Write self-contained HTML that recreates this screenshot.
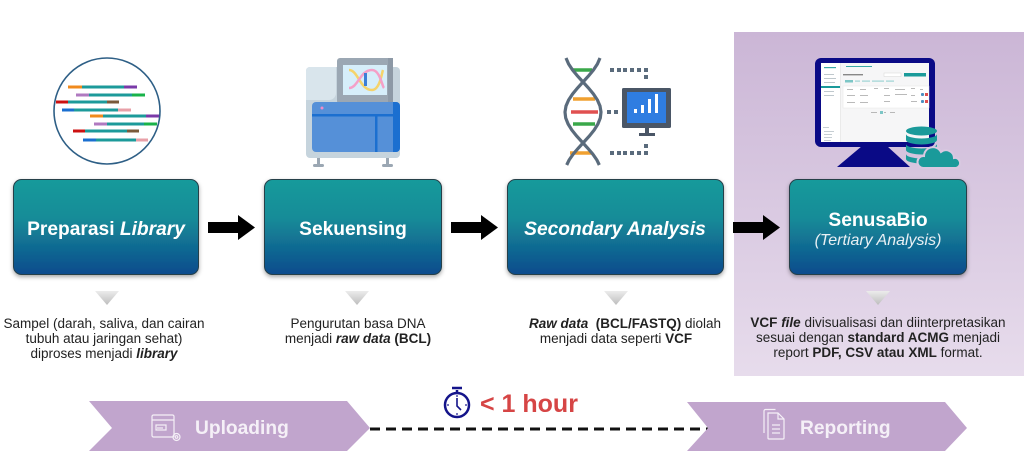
<!DOCTYPE html>
<html><head><meta charset="utf-8"><style>
html,body{margin:0;padding:0;background:#fff;}
body{width:1024px;height:475px;overflow:hidden;}
svg{display:block;}
text{font-family:"Liberation Sans",sans-serif;}
</style></head><body>
<svg width="1024" height="475" viewBox="0 0 1024 475" xmlns="http://www.w3.org/2000/svg">
<defs>
<linearGradient id="panel" x1="0" y1="0" x2="0" y2="1"><stop offset="0" stop-color="#cbb6d6"/><stop offset="1" stop-color="#e7dcec"/></linearGradient>
<linearGradient id="box" x1="0" y1="0" x2="0" y2="1"><stop offset="0" stop-color="#189a9b"/><stop offset="0.4" stop-color="#158c98"/><stop offset="1" stop-color="#0d4b8d"/></linearGradient>
<linearGradient id="tri" x1="0" y1="0" x2="0" y2="1"><stop offset="0" stop-color="#ececec"/><stop offset="1" stop-color="#bdbdbd"/></linearGradient>
<filter id="sh" x="-10%" y="-10%" width="120%" height="130%"><feDropShadow dx="0" dy="2" stdDeviation="2" flood-color="#000" flood-opacity="0.35"/></filter>
</defs>

<!-- purple panel -->
<rect x="734" y="32" width="290" height="344" fill="url(#panel)"/>

<!-- ICON 1: library circle -->
<circle cx="107" cy="111" r="53" fill="#fff" stroke="#2e5f86" stroke-width="1.6"/>
<g stroke-width="3">
<line x1="68" y1="87" x2="82" y2="87" stroke="#f08a1c"/><line x1="82" y1="87" x2="124" y2="87" stroke="#1c9a9a"/><line x1="124" y1="87" x2="137" y2="87" stroke="#7a3aa8"/>
<line x1="76" y1="95" x2="89" y2="95" stroke="#b07ac0"/><line x1="89" y1="95" x2="132" y2="95" stroke="#1c9a9a"/><line x1="132" y1="95" x2="145" y2="95" stroke="#19b34a"/>
<line x1="56" y1="102" x2="68" y2="102" stroke="#cc1111"/><line x1="68" y1="102" x2="107" y2="102" stroke="#1c9a9a"/><line x1="107" y1="102" x2="119" y2="102" stroke="#7a5a3a"/>
<line x1="62" y1="110" x2="74" y2="110" stroke="#1a6fd0"/><line x1="74" y1="110" x2="118" y2="110" stroke="#1c9a9a"/><line x1="118" y1="110" x2="131" y2="110" stroke="#e8a0a8"/>
<line x1="90" y1="116" x2="103" y2="116" stroke="#f08a1c"/><line x1="103" y1="116" x2="146" y2="116" stroke="#1c9a9a"/><line x1="146" y1="116" x2="159" y2="116" stroke="#7a3aa8"/>
<line x1="94" y1="124" x2="107" y2="124" stroke="#b07ac0"/><line x1="107" y1="124" x2="144" y2="124" stroke="#1c9a9a"/><line x1="144" y1="124" x2="157" y2="124" stroke="#19b34a"/>
<line x1="73" y1="131" x2="85" y2="131" stroke="#cc1111"/><line x1="85" y1="131" x2="127" y2="131" stroke="#1c9a9a"/><line x1="127" y1="131" x2="139" y2="131" stroke="#7a5a3a"/>
<line x1="83" y1="140" x2="96" y2="140" stroke="#1a6fd0"/><line x1="96" y1="140" x2="136" y2="140" stroke="#1c9a9a"/><line x1="136" y1="140" x2="148" y2="140" stroke="#e8a0a8"/>
</g>

<!-- ICON 2: sequencer -->
<rect x="306" y="67" width="94" height="91" rx="4" fill="#c6d4dd"/>
<path d="M306 71 a4 4 0 0 1 4 -4 h26 v26 a7 7 0 0 1 -7 7 h-23 z" fill="#d9e5ec"/>
<rect x="337" y="58" width="56" height="46" rx="3" fill="#9ba7b3"/>
<rect x="388" y="58" width="5" height="46" fill="#8d99a6"/>
<rect x="343" y="65" width="44" height="30" fill="#d6eefa"/>
<path d="M349 70 C358 70 360 90 372 90 C380 90 382 72 383 70" fill="none" stroke="#f5d36a" stroke-width="2.5"/>
<path d="M349 88 C358 88 360 70 372 70 C380 70 382 86 384 88" fill="none" stroke="#f4a0c8" stroke-width="2.5"/>
<rect x="364" y="73" width="3" height="13" fill="#3d7fd6"/>
<rect x="312" y="102" width="88" height="50" rx="4" fill="#5590d8"/>
<path d="M393 102 h3 a4 4 0 0 1 4 4 v42 a4 4 0 0 1 -4 4 h-3 z" fill="#1b6fd0"/>
<rect x="312" y="114" width="88" height="2.5" fill="#1b6fd0"/>
<rect x="375" y="116" width="2.5" height="36" fill="#1b6fd0"/>
<circle cx="322" cy="108" r="1.5" fill="#f08ac8"/>
<rect x="317" y="158" width="3" height="7" fill="#9ba7b3"/><rect x="313" y="164" width="11" height="3" rx="1.5" fill="#9ba7b3"/>
<rect x="386" y="158" width="3" height="7" fill="#9ba7b3"/><rect x="382" y="164" width="11" height="3" rx="1.5" fill="#9ba7b3"/>

<!-- ICON 3: DNA + monitor -->
<g stroke-width="3.5">
<line x1="573" y1="70" x2="592" y2="70" stroke="#3aa84a"/>
<line x1="573" y1="99" x2="595" y2="99" stroke="#f0a030"/>
<line x1="571" y1="112" x2="598" y2="112" stroke="#e05050"/>
<line x1="573" y1="124" x2="595" y2="124" stroke="#3aa84a"/>
<line x1="570" y1="153" x2="592" y2="153" stroke="#f0a030"/>
</g>
<polyline fill="none" stroke="#5a6b7c" stroke-width="3.2" points="566,58 568.6,64 572.6,70 577.5,76 583,82 588.5,88 593.4,94 597.4,100 600,106 601,112 600.3,118 597.9,124 594.2,130 589.4,136 583.9,142 578.4,148 573.3,154 569.1,160 566.7,165"/>
<polyline fill="none" stroke="#5a6b7c" stroke-width="3.2" points="600,58 597.4,64 593.4,70 588.5,76 583,82 577.5,88 572.6,94 568.6,100 566,106 565,112 565.7,118 568.1,124 571.8,130 576.6,136 582.1,142 587.6,148 592.7,154 596.9,160 599.3,165"/>
<g fill="#5a6b7c">
<rect x="610" y="68" width="4" height="4"/><rect x="617" y="68" width="4" height="4"/><rect x="623" y="68" width="4" height="4"/><rect x="630" y="68" width="4" height="4"/><rect x="637" y="68" width="4" height="4"/><rect x="644" y="68" width="4" height="4"/><rect x="644" y="75" width="4" height="4"/>
<rect x="607" y="110" width="4" height="4"/><rect x="614" y="110" width="4" height="4"/>
<rect x="644" y="144" width="4" height="4"/>
<rect x="610" y="151" width="4" height="4"/><rect x="617" y="151" width="4" height="4"/><rect x="623" y="151" width="4" height="4"/><rect x="630" y="151" width="4" height="4"/><rect x="637" y="151" width="4" height="4"/><rect x="644" y="151" width="4" height="4"/>
</g>
<rect x="622" y="88" width="49" height="40" rx="1.5" fill="#4a5666"/>
<rect x="627" y="92" width="39" height="31" fill="#2f7de1"/>
<g fill="#fff"><rect x="634" y="109" width="3" height="4"/><rect x="641" y="105" width="3" height="8"/><rect x="648" y="99" width="3" height="14"/><rect x="655" y="94" width="3" height="19"/></g>
<rect x="645" y="128" width="4" height="6" fill="#4a5666"/><rect x="639" y="133" width="16" height="3" fill="#4a5666"/>

<!-- ICON 4: monitor with app -->
<rect x="815" y="58" width="120" height="89" rx="6" fill="#0a0a86"/>
<polygon points="862,146 887,146 910,167 837,167" fill="#0a0a86"/>
<rect x="821" y="63" width="108" height="79" fill="#f6f6f7"/>
<rect x="821" y="63" width="19" height="79" fill="#fff"/>
<line x1="840.5" y1="63" x2="840.5" y2="142" stroke="#e2e2e2" stroke-width="0.6"/>
<g fill="#b8c2c8">
<rect x="824" y="67" width="12" height="1.2" fill="#3aa8a8"/>
<rect x="824" y="74" width="10" height="0.9"/><rect x="824" y="78" width="12" height="0.9"/><rect x="824" y="82" width="11" height="0.9"/>
<rect x="821" y="86" width="19" height="2" fill="#1a9a9a"/>
<rect x="824" y="91" width="10" height="0.9"/><rect x="824" y="95" width="10" height="0.9"/>
<rect x="823" y="127" width="6" height="0.8"/><rect x="824" y="131" width="10" height="0.8"/><rect x="824" y="134" width="8" height="0.8"/><rect x="824" y="137" width="8" height="0.8"/><rect x="824" y="140" width="7" height="0.8"/>
<rect x="846" y="66" width="26" height="1" fill="#3aa8a8"/>
<rect x="843" y="74" width="20" height="1.4" fill="#888"/>
<rect x="884" y="73" width="17" height="3.5" fill="#fff" stroke="#ccc" stroke-width="0.4"/>
<rect x="904" y="73" width="22" height="3.5" fill="#1a9a9a"/>
<rect x="845" y="80" width="8" height="2.5" fill="#7cc6c6"/>
<rect x="855" y="80.5" width="5" height="1.2" fill="#9fd4d4"/><rect x="862" y="80.5" width="8" height="1.2" fill="#9fd4d4"/><rect x="872" y="80.5" width="12" height="1.2" fill="#9fd4d4"/><rect x="886" y="80.5" width="8" height="1.2" fill="#9fd4d4"/>
</g>
<rect x="843" y="86" width="86" height="22" fill="#fff" stroke="#e6e6e6" stroke-width="0.5"/>
<g fill="#a9a9a9">
<rect x="847" y="89" width="6" height="0.8"/><rect x="860" y="89" width="6" height="0.8"/><rect x="874" y="88" width="4" height="0.8"/><rect x="884" y="88" width="5" height="0.8"/><rect x="895" y="89" width="10" height="0.8"/><rect x="911" y="88" width="4" height="0.8"/><rect x="920" y="89" width="3" height="0.8"/>
<rect x="847" y="95" width="8" height="0.8"/><rect x="860" y="95" width="8" height="0.8"/><rect x="884" y="95" width="6" height="0.8"/><rect x="895" y="94" width="12" height="0.8"/><rect x="911" y="95" width="4" height="0.8"/>
<rect x="847" y="102" width="8" height="0.8"/><rect x="860" y="102" width="8" height="0.8"/><rect x="884" y="101" width="6" height="0.8"/><rect x="911" y="101" width="6" height="0.8"/>
<rect x="871" y="112" width="6" height="0.8"/><rect x="884" y="112" width="2" height="0.8"/><rect x="890" y="112" width="5" height="0.8"/>
</g>
<rect x="921" y="93" width="3" height="3" rx="1" fill="#4a8ec0"/><rect x="925" y="93" width="3" height="3" fill="#e05050"/>
<rect x="921" y="100" width="3" height="3" rx="1" fill="#4a8ec0"/><rect x="925" y="100" width="3" height="3" fill="#e05050"/>
<rect x="880" y="111" width="3" height="3" fill="#7cc6c6"/>
<!-- database + cloud -->
<g fill="#1a9a9a">
<ellipse cx="921.5" cy="131" rx="15.5" ry="4.5"/>
<path d="M906 134 v6 a15.5 4.5 0 0 0 31 0 v-6 a15.5 4.5 0 0 1 -31 0z"/>
<path d="M906 144 v6 a15.5 4.5 0 0 0 31 0 v-6 a15.5 4.5 0 0 1 -31 0z"/>
<path d="M906 154 v5 a15.5 4.5 0 0 0 31 0 v-5 a15.5 4.5 0 0 1 -31 0z"/>
</g>
<path d="M923 168 a6 6 0 0 1 1 -12 a9 9 0 0 1 17 -4 a8 8 0 0 1 13 6 a5 5 0 0 1 2 10 z" fill="#1a9a9a" stroke="#d8c8e0" stroke-width="2"/>

<!-- BOXES -->
<g filter="url(#sh)" stroke="#26404a" stroke-width="1" fill="url(#box)">
<rect x="13.5" y="179.5" width="185" height="95" rx="8"/>
<rect x="264.5" y="179.5" width="177" height="95" rx="8"/>
<rect x="507.5" y="179.5" width="216" height="95" rx="8"/>
<rect x="789.5" y="179.5" width="177" height="95" rx="8"/>
</g>
<g fill="#fff" font-weight="bold" font-size="19.2" text-anchor="middle">
<text x="106" y="235">Preparasi <tspan font-style="italic">Library</tspan></text>
<text x="353" y="235">Sekuensing</text>
<text x="615" y="235" font-style="italic">Secondary Analysis</text>
<text x="878" y="226">SenusaBio</text>
</g>
<text x="878" y="245" fill="#e8f0f4" font-size="16" font-style="italic" text-anchor="middle">(Tertiary Analysis)</text>

<!-- ARROWS -->
<g fill="#000">
<rect x="208" y="222" width="32" height="11"/><polygon points="238,215 255,227.5 238,240"/>
<rect x="451" y="222" width="32" height="11"/><polygon points="481,215 498,227.5 481,240"/>
<rect x="733" y="222" width="32" height="11"/><polygon points="763,215 780,227.5 763,240"/>
</g>

<!-- TRIANGLES -->
<g fill="url(#tri)">
<polygon points="95,291 119,291 107,305"/>
<polygon points="345,291 369,291 357,305"/>
<polygon points="604,291 628,291 616,305"/>
<polygon points="866,291 890,291 878,305"/>
</g>

<!-- DESCRIPTIONS -->
<g fill="#222" font-size="13.5" text-anchor="middle">
<text x="104" y="328">Sampel (darah, saliva, dan cairan</text>
<text x="104" y="343">tubuh atau jaringan sehat)</text>
<text x="104" y="358">diproses menjadi <tspan font-weight="bold" font-style="italic">library</tspan></text>
<text x="358" y="328">Pengurutan basa DNA</text>
<text x="358" y="343">menjadi <tspan font-weight="bold" font-style="italic">raw data</tspan> <tspan font-weight="bold">(BCL)</tspan></text>
<text x="625" y="328"><tspan font-weight="bold" font-style="italic">Raw data</tspan>&#160; <tspan font-weight="bold">(BCL/FASTQ)</tspan> diolah</text>
<text x="616" y="343">menjadi data seperti <tspan font-weight="bold">VCF</tspan></text>
<text x="878" y="327"><tspan font-weight="bold">VCF </tspan><tspan font-weight="bold" font-style="italic">file</tspan> divisualisasi dan diinterpretasikan</text>
<text x="878" y="342">sesuai dengan <tspan font-weight="bold">standard ACMG</tspan> menjadi</text>
<text x="878" y="357">report <tspan font-weight="bold">PDF, CSV atau XML</tspan> format.</text>
</g>

<!-- BOTTOM TIMELINE -->
<line x1="370" y1="429" x2="708" y2="429" stroke="#111" stroke-width="3" stroke-dasharray="10 6"/>
<polygon points="89,401 347,401 370,428 347,451 89,451 112,428" fill="#c1a5cd"/>
<polygon points="687,402 945,402 967,428 945,451 687,451 708,428" fill="#c1a5cd"/>
<!-- uploading icon -->
<g fill="none" stroke="#f5f0f7" stroke-width="1.2">
<rect x="152" y="415" width="22" height="22" rx="1.5"/>
<line x1="152" y1="420" x2="174" y2="420"/>
<rect x="156" y="425" width="10" height="5"/>
<line x1="157" y1="428" x2="163" y2="428"/>
<circle cx="176.5" cy="437" r="3.5"/>
<circle cx="176.5" cy="437" r="1.3"/>
</g>
<!-- reporting icon -->
<g fill="none" stroke="#f5f0f7" stroke-width="1.2">
<path d="M764 433 v-22 a1.5 1.5 0 0 1 1.5 -1.5 h10"/>
<path d="M768 413 h10 l6 6 v19 a1 1 0 0 1 -1 1 h-14 a1 1 0 0 1 -1 -1 z"/>
<path d="M778 413 v6 h6"/>
<line x1="772" y1="425" x2="780" y2="425"/><line x1="772" y1="429" x2="780" y2="429"/><line x1="772" y1="433" x2="780" y2="433"/>
</g>
<text x="195" y="434" fill="#f5f0f7" font-size="19.2" font-weight="bold">Uploading</text>
<text x="800" y="434" fill="#f5f0f7" font-size="19.2" font-weight="bold">Reporting</text>
<!-- clock -->
<g stroke="#14148a" fill="none">
<circle cx="457" cy="405" r="12" stroke-width="2.5"/>
<line x1="457" y1="390" x2="457" y2="393" stroke-width="2.5"/>
<line x1="452" y1="388" x2="462" y2="388" stroke-width="2.5"/>
<polyline points="457,398 457,406 461,410" stroke-width="1.6"/>
</g>
<g fill="#14148a"><circle cx="457" cy="396" r="0.9"/><circle cx="457" cy="414" r="0.9"/><circle cx="448" cy="405" r="0.9"/><circle cx="466" cy="405" r="0.9"/></g>
<text x="480" y="412" fill="#d64545" font-size="25" font-weight="bold">&lt; 1 hour</text>
</svg>
</body></html>
